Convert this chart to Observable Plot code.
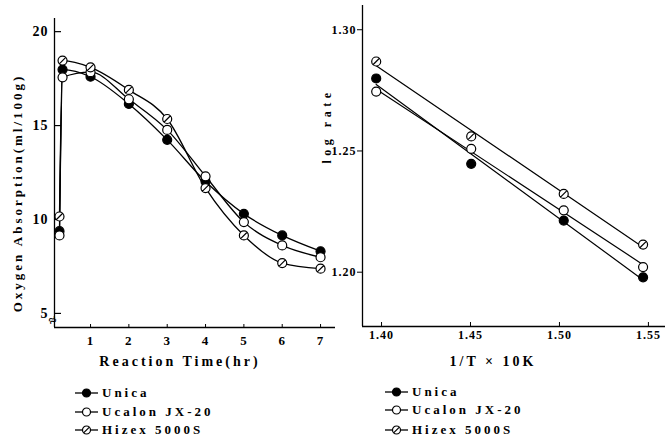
<!DOCTYPE html>
<html><head><meta charset="utf-8">
<script src="https://cdn.jsdelivr.net/npm/d3@7"></script>
<script src="https://cdn.jsdelivr.net/npm/@observablehq/plot@0.6"></script>
<style>
html,body{margin:0;padding:0;background:#fff;}
#root{position:relative;width:665px;height:441px;overflow:hidden;font-family:"Liberation Serif",serif;font-weight:bold;color:#000;}
#root svg{overflow:visible;}
.panel{position:absolute;top:0;}
.legend{position:absolute;font-size:13px;letter-spacing:3px;}
.legend div{position:absolute;left:0;white-space:nowrap;height:14px;line-height:14px;}
.legend svg{vertical-align:top;margin-right:4px;}
</style></head><body><div id="root"></div>
<script>
// ---- data ----
const seriesNames = ["Unica", "Ucalon JX-20", "Hizex 5000S"];

// left panel: oxygen absorption (ml/100g) vs reaction time (hr)
const timeHr   = [0.19, 0.27, 1, 2, 3, 4, 5, 6, 7];
const unicaO2  = [9.38, 17.98, 17.60, 16.15, 14.24, 12.02, 10.30, 9.15, 8.31];
const ucalonO2 = [9.15, 17.57, 17.84, 16.40, 14.77, 12.30, 9.86, 8.62, 7.99];
const hizexO2  = [10.16, 18.46, 18.10, 16.90, 15.35, 11.67, 9.15, 7.68, 7.38];
const xTicksLeft = [1, 2, 3, 4, 5, 6, 7];
const yTicksLeft = [5, 10, 15, 20];

// right panel: log rate vs 1/T x 10K
const invT      = [1.3970, 1.4504, 1.5024, 1.5470];
const unicaLog  = [1.2799, 1.2447, 1.2213, 1.1979];
const ucalonLog = [1.2745, 1.2509, 1.2255, 1.2021];
const hizexLog  = [1.2869, 1.2560, 1.2323, 1.2114];
const xTicksRight = [1.40, 1.45, 1.50, 1.55];
const yTicksRight = [1.20, 1.25, 1.30];

const leftXTitle = "Reaction Time(hr)";
const leftYTitle = "Oxygen Absorption(ml/100g)";
const rightXTitle = "1/T × 10K";
const rightYTitle = "log rate";

// ---- build tables ----
const leftValues = [unicaO2, ucalonO2, hizexO2];
const rightValues = [unicaLog, ucalonLog, hizexLog];
const leftData = seriesNames.flatMap((s, i) => timeHr.map((t, j) => ({series: s, t, v: leftValues[i][j]})));
const rightData = seriesNames.flatMap((s, i) => invT.map((x, j) => ({series: s, x, y: rightValues[i][j]})));

const hizexSymbol = {
  draw(ctx, size) {
    const r = Math.sqrt(size / Math.PI);
    ctx.moveTo(r, 0);
    ctx.arc(0, 0, r, 0, 2 * Math.PI);
    const k = r * 0.72;
    ctx.moveTo(-k, k);
    ctx.lineTo(k, -k);
  }
};
const markerStyle = {
  "Unica": {fill: "black", symbol: "circle"},
  "Ucalon JX-20": {fill: "white", symbol: "circle"},
  "Hizex 5000S": {fill: "white", symbol: hizexSymbol}
};
function dotMarks(data, x, y, r) {
  return seriesNames.map(s => Plot.dot(data.filter(d => d.series === s), {
    x, y, r, fill: markerStyle[s].fill, symbol: markerStyle[s].symbol, stroke: "black", strokeWidth: 1.2
  }));
}
const baseStyle = {background: "transparent", fontFamily: "Liberation Serif", fontSize: "13px", fontWeight: "bold", color: "black", overflow: "visible"};

// ---- left panel ----
const lx = [0.06, 7.39], ly = [4.25, 20.7];
const left = Plot.plot({
  width: 336, height: 378, marginLeft: 54, marginRight: 1, marginTop: 18, marginBottom: 51,
  x: {domain: lx}, y: {domain: ly},
  style: baseStyle,
  marks: [
    Plot.ruleX([lx[0]], {stroke: "black", strokeWidth: 1.3}),
    Plot.ruleY([ly[0]], {stroke: "black", strokeWidth: 1.3}),
    Plot.axisX({ticks: xTicksLeft, tickSize: 0, tickPadding: 8, fontSize: 13, label: null}),
    Plot.axisY({ticks: yTicksLeft, tickSize: 0, tickPadding: 6, fontSize: 14, label: null}),
    Plot.tickY(yTicksLeft, {y: d => d, insetRight: 274, stroke: "black", strokeWidth: 1.2}),
    Plot.tickX(xTicksLeft, {x: d => d, insetTop: 306, stroke: "black"}),
    Plot.line(leftData, {x: "t", y: "v", z: "series", curve: "monotone-x", stroke: "black", strokeWidth: 1.3}),
    ...dotMarks(leftData, "t", "v", 4.5),
    Plot.text([leftYTitle], {frameAnchor: "left", textAnchor: "middle", rotate: -90, dx: -37, dy: 20, fontSize: 13}),
    Plot.text([leftXTitle], {frameAnchor: "bottom", textAnchor: "middle", dy: 38, dx: -15, fontSize: 14}),
    Plot.text(["≈"], {frameAnchor: "bottom-left", textAnchor: "middle", dy: -3, dx: 0, fontSize: 14, rotate: -25})
  ]
});
left.classList.add("panel");
left.style.left = "0px";

// ---- right panel ----
const rx = [1.3893, 1.5596], ry = [1.1776, 1.310];
const right = Plot.plot({
  width: 345, height: 378, marginLeft: 42, marginRight: 0, marginTop: 5, marginBottom: 52,
  x: {domain: rx}, y: {domain: ry},
  style: baseStyle,
  marks: [
    Plot.ruleX([rx[0]], {stroke: "black", strokeWidth: 1.3}),
    Plot.ruleY([ry[0]], {stroke: "black", strokeWidth: 1.3}),
    Plot.axisY({ticks: yTicksRight, tickSize: 5, tickPadding: 1, tickFormat: d3.format(".2f"), fontSize: 12, label: null}),
    Plot.axisX({ticks: xTicksRight, tickSize: 0, tickPadding: 4, tickFormat: d3.format(".2f"), fontSize: 12, label: null}),
    Plot.tickX(xTicksRight, {x: d => d, insetTop: 317, stroke: "black"}),
    Plot.linearRegressionY(rightData, {x: "x", y: "y", z: "series", stroke: "black", ci: 0, strokeWidth: 1.2}),
    ...dotMarks(rightData, "x", "y", 4.5),
    Plot.text([rightYTitle], {frameAnchor: "left", textAnchor: "middle", rotate: -90, dx: -35, dy: -40, fontSize: 12}),
    Plot.text([rightXTitle], {frameAnchor: "bottom", textAnchor: "middle", dy: 39, dx: -21, fontSize: 14})
  ]
});
right.classList.add("panel");
right.style.left = "320px";

const root = document.getElementById("root");
root.appendChild(left);
root.appendChild(right);

// letter spacing to mimic the spaced typewriter lettering
const spacing = {[leftXTitle]: "3px", [leftYTitle]: "3px", [rightXTitle]: "3px", [rightYTitle]: "4.5px"};
[left, right].forEach(svg => {
  d3.select(svg).selectAll("text").each(function() {
    const t = this.textContent;
    if (spacing[t]) this.style.letterSpacing = spacing[t];
    else if (t !== "≈") this.style.letterSpacing = "1px";
  });
});

// ---- legends ----
function swatch(s) {
  const m = markerStyle[s];
  let inner = `<line x1="0" y1="7" x2="23" y2="7" stroke="black" stroke-width="1.3"/>` +
    `<circle cx="11.5" cy="7" r="4" fill="${m.fill}" stroke="black" stroke-width="1.2"/>`;
  if (s === "Hizex 5000S") inner += `<line x1="8.6" y1="9.9" x2="14.4" y2="4.1" stroke="black" stroke-width="1.2"/>`;
  return `<svg width="23" height="14">${inner}</svg>`;
}
function legend(x, ys) {
  const div = document.createElement("div");
  div.className = "legend";
  div.style.left = x + "px";
  div.style.top = "0px";
  seriesNames.forEach((s, i) => {
    const row = document.createElement("div");
    row.style.top = (ys[i] - 7) + "px";
    row.innerHTML = swatch(s) + s;
    div.appendChild(row);
  });
  root.appendChild(div);
}
legend(75, [393, 412, 430]);
legend(385, [392, 410, 430]);
</script></body></html>
